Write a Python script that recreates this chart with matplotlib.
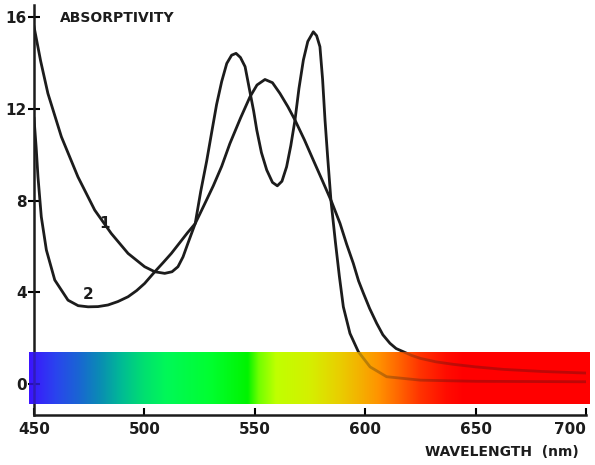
import numpy as np
import matplotlib
matplotlib.use("Agg")
import matplotlib.pyplot as plt

# curve 1: two narrow peaks
wl1 = [450.0, 453.0, 456.3, 462.4, 469.9, 477.5, 485.0, 492.6, 500.1, 504.7,
       509.2, 512.5, 515.2, 517.5, 519.7, 523.0, 525.5, 528.2, 530.5, 532.7,
       535.0, 537.3, 539.5, 541.5, 543.5, 545.6, 547.8, 549.5, 550.9, 553.0,
       555.4, 558.0, 560.2, 562.3, 564.4, 566.3, 568.2, 570.0, 572.0, 574.0,
       576.5, 578.0, 579.5, 580.7, 581.8, 583.0, 584.5, 586.5, 588.3, 590.1,
       593.1, 596.9, 602.2, 609.7, 625.0, 650.0, 700.0]
ab1 = [15.6, 14.1, 12.68, 10.79, 9.04, 7.59, 6.57, 5.70, 5.12, 4.90,
       4.83, 4.90, 5.12, 5.55, 6.14, 7.0, 8.4, 9.73, 11.0, 12.2,
       13.2, 13.99, 14.35, 14.43, 14.25, 13.85, 12.75, 11.9, 11.08, 10.1,
       9.34, 8.8, 8.65, 8.85, 9.48, 10.4, 11.52, 12.9, 14.14, 14.95,
       15.37, 15.2, 14.72, 13.3, 11.52, 9.9, 8.0, 6.2, 4.7, 3.37,
       2.21, 1.41, 0.75, 0.32, 0.17, 0.12, 0.10]

# curve 2: one broad peak
wl2 = [450.0, 451.0, 451.8, 453.3, 455.6, 459.4, 465.4, 470.0, 474.5, 479.0,
       483.5, 488.0, 492.6, 496.5, 500.1, 504.7, 508.5, 512.2, 516.1, 519.5,
       523.0, 527.0, 531.2, 535.0, 538.7, 543.5, 547.8, 551.0, 554.6, 558.0,
       561.4, 565.0, 568.2, 572.5, 576.5, 580.5, 584.8, 588.6, 591.6, 594.6,
       597.0, 599.2, 602.0, 605.2, 608.0, 611.2, 614.0, 617.3, 621.0, 625.0,
       632.0, 640.0, 650.0, 662.6, 680.0, 700.0]
ab2 = [11.6, 10.3, 9.04, 7.3, 5.85, 4.54, 3.66, 3.42, 3.37, 3.38,
       3.45, 3.6, 3.81, 4.08, 4.39, 4.9, 5.3, 5.70, 6.18, 6.6,
       7.0, 7.8, 8.65, 9.5, 10.49, 11.6, 12.53, 13.05, 13.29, 13.15,
       12.68, 12.1, 11.52, 10.65, 9.77, 8.9, 7.95, 7.01, 6.1, 5.27,
       4.5, 3.96, 3.3, 2.65, 2.15, 1.78, 1.55, 1.41, 1.25, 1.12,
       0.97, 0.86, 0.75, 0.64, 0.55, 0.48]

# colour stops of the spectrum strip
strip_wl = [448, 460, 470, 480, 490, 500, 510, 530, 547, 552, 560, 575,
            588, 597, 606, 615, 625, 637, 645, 702]
strip_col = ["#3c14ff", "#2a44ee", "#1a64d4", "#0a8cb4", "#00bc94", "#00e070",
             "#00f858", "#00ff30", "#00f400", "#70ff00", "#c0ff00", "#d4f000",
             "#e8d000", "#f3b400", "#ff9400", "#ff6800", "#ff3400", "#ff0c00",
             "#ff0000", "#ff0000"]

xticks = [450, 500, 550, 600, 650, 700]
yticks = [0, 4, 8, 12, 16]

font = ["Liberation Sans Narrow", "DejaVu Sans"]
plt.rcParams["font.family"] = font

fig = plt.figure(figsize=(5.95, 4.65), dpi=100)
ax = fig.add_axes([34 / 595, 50 / 465, 552 / 595, 410 / 465])
ax.set_xlim(450, 700)
ax.set_ylim(-1.35, 16.54)

ax.plot(wl1, ab1, color="#1c1c1c", lw=2.0, zorder=2, solid_joinstyle="round")
ax.plot(wl2, ab2, color="#1c1c1c", lw=2.0, zorder=2, solid_joinstyle="round")

# spectrum strip: opaque underneath, translucent copy on top so curves show through
grid = np.linspace(448, 702, 600)
rgb = np.array([matplotlib.colors.to_rgb(c) for c in strip_col])
img = np.stack([np.interp(grid, strip_wl, rgb[:, k]) for k in range(3)], axis=-1)[None, :, :]
ext = (447.7, 701.6, -0.87, 1.37)
ax.imshow(img, extent=ext, aspect="auto", zorder=0.5, clip_on=False, interpolation="bilinear")
ax.imshow(img, extent=ext, aspect="auto", zorder=3, alpha=0.72, clip_on=False, interpolation="bilinear")

for s in ["top", "right"]:
    ax.spines[s].set_visible(False)
for s in ["left", "bottom"]:
    ax.spines[s].set_linewidth(1.8)
    ax.spines[s].set_color("#1c1c1c")

ax.set_xticks(xticks)
ax.set_yticks(yticks)
ax.tick_params(axis="x", direction="in", length=5, width=1.5, pad=5, labelsize=11)
ax.tick_params(axis="y", direction="inout", length=8, width=1.5, pad=1, labelsize=11)
for lab in ax.get_xticklabels() + ax.get_yticklabels():
    lab.set_fontweight("bold")
    lab.set_color("#1c1c1c")
# last x label sits at the right edge of the figure
ax.get_xticklabels()[-1].set_horizontalalignment("right")

ax.text(461.8, 15.97, "ABSORPTIVITY", fontsize=10, fontweight="bold", va="center", ha="left", color="#1c1c1c")
ax.text(482, 7.0, "1", fontsize=11, fontweight="bold", va="center", ha="center", color="#1c1c1c")
ax.text(474.5, 3.9, "2", fontsize=11, fontweight="bold", va="center", ha="center", color="#1c1c1c")
fig.text(425 / 595, 1 - 452 / 465, "WAVELENGTH  (nm)", fontsize=10, fontweight="bold", va="center", ha="left", color="#1c1c1c")

fig.savefig("out.png", dpi=100)
